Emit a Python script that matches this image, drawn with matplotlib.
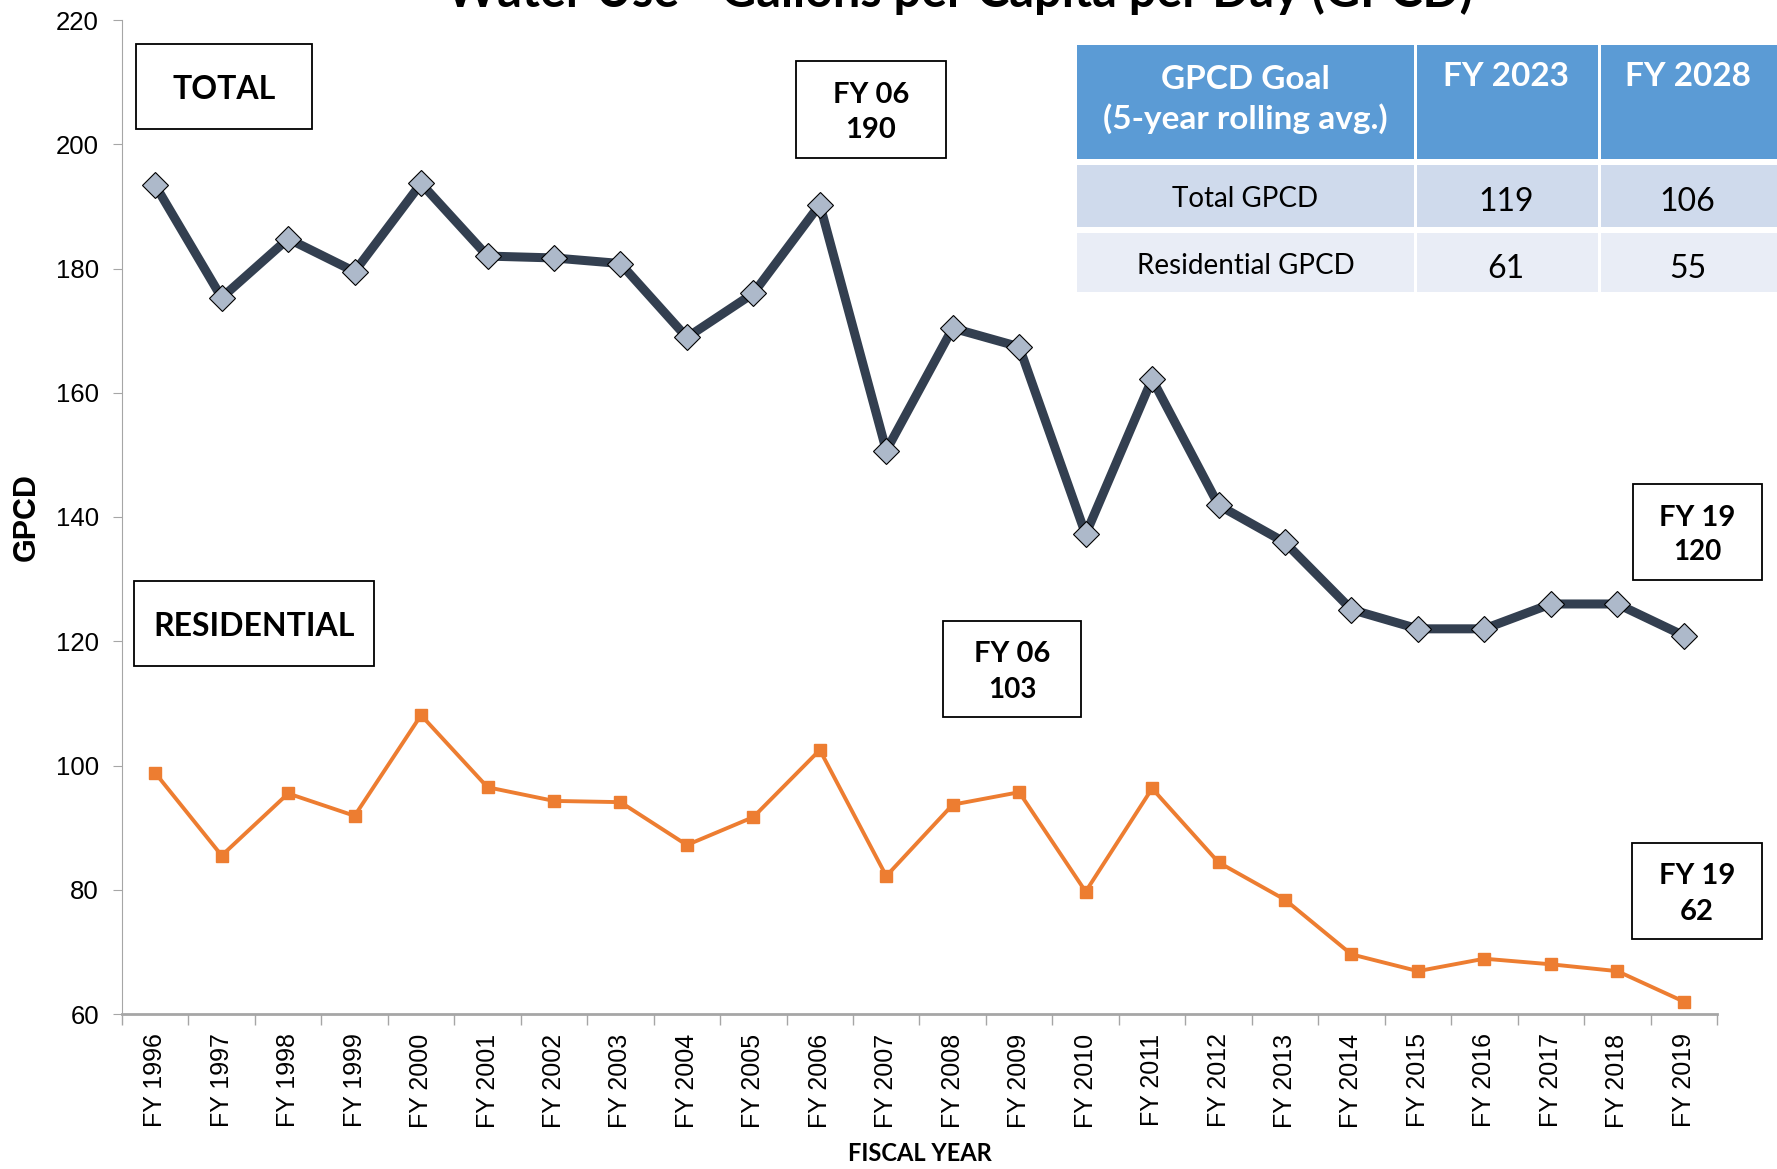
import matplotlib
matplotlib.use("Agg")
import matplotlib.pyplot as plt
from matplotlib.patches import Rectangle
import numpy as np

years = ["FY %d" % y for y in range(1996, 2020)]
total_gpcd = [193.4, 175.3, 184.8, 179.5, 193.7, 182.0, 181.7, 180.8, 168.9, 176.0,
              190.3, 150.7, 170.4, 167.4, 137.2, 162.2, 141.9, 135.9, 125.1, 122.0,
              122.0, 126.0, 126.0, 120.9]
residential_gpcd = [98.8, 85.5, 95.5, 91.9, 108.1, 96.5, 94.3, 94.1, 87.2, 91.7,
                    102.5, 82.2, 93.7, 95.7, 79.7, 96.3, 84.4, 78.4, 69.6, 66.9,
                    68.9, 68.0, 66.9, 62.0]

goal_header = ["GPCD Goal\n(5-year rolling avg.)", "FY 2023", "FY 2028"]
goal_rows = [["Total GPCD", "119", "106"],
             ["Residential GPCD", "61", "55"]]

W, H = 1777, 1169
BOLD = ["Lato", "DejaVu Sans"]
ARIAL = ["Liberation Sans", "DejaVu Sans"]


def fx(px):
    return px / W


def fy(py):
    return 1 - py / H


def box(fig, x0, y0, x1, y1, lines, sizes):
    fig.patches.append(Rectangle((fx(x0), fy(y1)), fx(x1 - x0), (y1 - y0) / H,
                                 transform=fig.transFigure, facecolor="white",
                                 edgecolor="black", linewidth=1.3, zorder=5))
    cy = (y0 + y1) / 2 + 3
    n = len(lines)
    step = 35
    for i, (t, s) in enumerate(zip(lines, sizes)):
        yy = cy + (i - (n - 1) / 2) * step
        fig.text(fx((x0 + x1) / 2), fy(yy), t, ha="center", va="center",
                 fontsize=s, fontweight="bold", family=BOLD, zorder=6)


fig = plt.figure(figsize=(W / 100, H / 100), dpi=100)
ax = fig.add_axes([fx(122), fy(1014), fx(1717 - 122), (1014 - 20) / H])

x = np.arange(len(years))
ax.plot(x, total_gpcd, color="#333F50", linewidth=6.5, marker="D", markersize=13,
        markerfacecolor="#ADB9CA", markeredgecolor="black", markeredgewidth=0.8,
        zorder=3)
ax.plot(x, residential_gpcd, color="#ED7D31", linewidth=2.8, marker="s", markersize=9,
        markerfacecolor="#ED7D31", markeredgecolor="#ED7D31", zorder=3)

ax.set_xlim(-0.5, len(years) - 0.5)
ax.set_ylim(60, 220)
ax.set_yticks(np.arange(60, 221, 20))
ax.set_xticks(x)
ax.set_xticklabels(years, rotation=90, fontsize=18, family=ARIAL)
ax.set_xticks(np.arange(-0.5, len(years), 1), minor=True)
ax.tick_params(axis="x", which="major", length=0, pad=14)
ax.tick_params(axis="x", which="minor", length=8, color="#A6A6A6", width=1)
ax.tick_params(axis="y", length=6.5, color="#A6A6A6", labelsize=18.5, pad=10)
for lab in ax.get_yticklabels():
    lab.set_family(ARIAL)

for s in ["top", "right"]:
    ax.spines[s].set_visible(False)
ax.spines["left"].set_color("#A6A6A6")
ax.spines["bottom"].set_color("#A6A6A6")
ax.spines["bottom"].set_linewidth(2)

ax.set_ylabel("GPCD", fontsize=22, fontweight="bold", family=ARIAL, labelpad=10)
ax.set_xlabel("FISCAL YEAR", fontsize=17, fontweight="bold", family=BOLD, labelpad=10)

fig.text(fx(959), fy(7), "Water Use - Gallons per Capita per Day (GPCD)",
         ha="center", va="baseline", fontsize=35, fontweight="bold", family=BOLD)

box(fig, 136, 44, 312, 129, ["TOTAL"], [23])
box(fig, 796, 61, 946, 158, ["FY 06", "190"], [21, 21])
box(fig, 134, 581, 374, 666, ["RESIDENTIAL"], [23])
box(fig, 943, 621, 1081, 717, ["FY 06", "103"], [21, 20])
box(fig, 1633, 484, 1762, 580, ["FY 19", "120"], [21, 20])
box(fig, 1632, 843, 1762, 939, ["FY 19", "62"], [21, 21])

# goals table
cols = [1077, 1414, 1598, 1777]
rows = [45, 162, 230, 295]
fills = ["#5B9BD5", "#CFDAEC", "#E9EDF6"]
cells = [goal_header] + goal_rows
gap = 3
for r in range(3):
    for c in range(3):
        x0, x1 = cols[c], cols[c + 1]
        y0, y1 = rows[r], rows[r + 1]
        fig.patches.append(Rectangle((fx(x0 + (gap if c else 0)), fy(y1 - gap)),
                                     fx(x1 - x0 - (gap if c else 0)), (y1 - y0 - (gap if r else 0) - gap) / H,
                                     transform=fig.transFigure, facecolor=fills[r],
                                     edgecolor="none", zorder=1))
        txt = cells[r][c]
        if r == 0:
            ty = (y0 + y1) / 2 - 4 if c == 0 else y0 + 32
            fig.text(fx((x0 + x1) / 2), fy(ty), txt, ha="center", va="center",
                     color="white", fontsize=24, fontweight="bold", family=BOLD,
                     linespacing=1.35)
        else:
            fs = 20 if c == 0 else 23
            dy = 3 if c == 0 else 6
            fig.text(fx((x0 + x1) / 2), fy((y0 + y1) / 2 + dy), txt, ha="center",
                     va="center", color="black", fontsize=fs, family=BOLD)

fig.savefig("out.png", dpi=100)
